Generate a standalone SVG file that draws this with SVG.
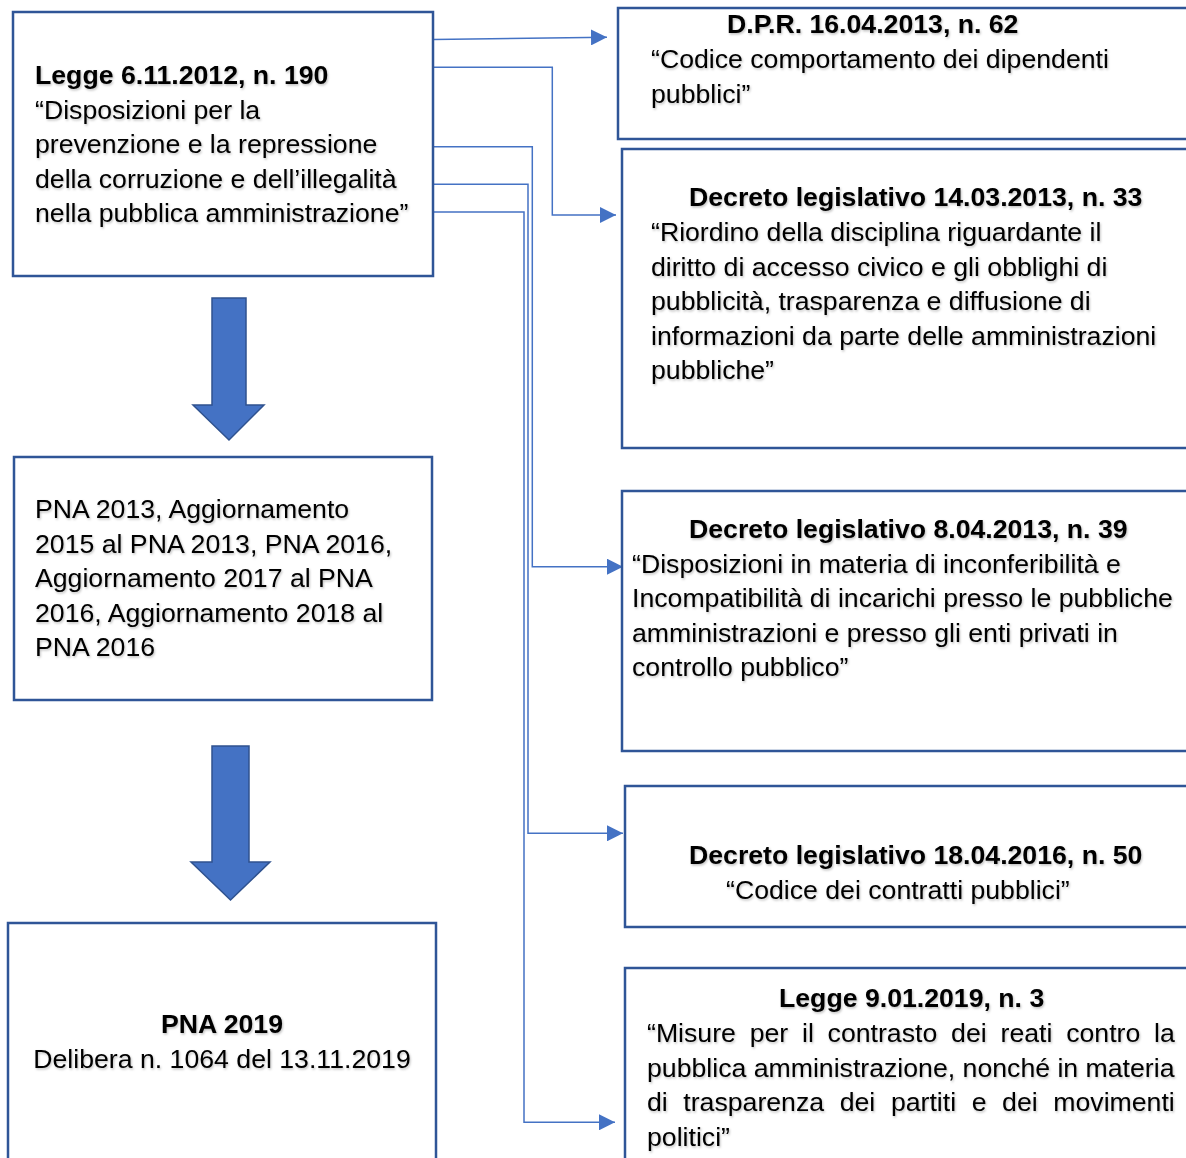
<svg xmlns="http://www.w3.org/2000/svg" width="1186" height="1158" viewBox="0 0 1186 1158">
  <style>
    .box { fill: #ffffff; stroke: #2F5597; stroke-width: 2.5; }
    .conn { fill: none; stroke: #4472C4; stroke-width: 1.5; }
    .big { fill: #4472C4; stroke: #2F528F; stroke-width: 1.5; }
    text { font-family: "Liberation Sans", Arial, Helvetica, sans-serif; font-size: 26.67px; fill: #000000; }
    .b { font-weight: bold; }
    .txt { filter: url(#shadow); }
  </style>
  <defs>
    <marker id="ah" viewBox="0 0 10 10" refX="10" refY="5" markerWidth="16" markerHeight="16" markerUnits="userSpaceOnUse" orient="auto">
      <path d="M0,0 L10,5 L0,10 Z" fill="#4472C4"/>
    </marker>
    <filter id="shadow" x="-5%" y="-20%" width="110%" height="150%">
      <feDropShadow dx="1" dy="1.5" stdDeviation="1" flood-color="#000000" flood-opacity="0.25"/>
    </filter>
  </defs>
  <rect width="1186" height="1158" fill="#ffffff"/>

  <g id="connectors">
    <path class="conn" d="M433,39.5 L607,37.2" marker-end="url(#ah)"/>
    <path class="conn" d="M433,67.3 H552.3 V215 H616" marker-end="url(#ah)"/>
    <path class="conn" d="M433,146.7 H532.3 V566.7 H623" marker-end="url(#ah)"/>
    <path class="conn" d="M433,184.3 H528 V833.3 H623" marker-end="url(#ah)"/>
    <path class="conn" d="M433,212 H524 V1122.3 H615" marker-end="url(#ah)"/>
    <polygon class="big" points="212,298 246,298 246,405 264,405 229,440 193,405 212,405"/>
    <polygon class="big" points="212,746 249,746 249,862 270,862 230.5,900 191,862 212,862"/>
  </g>

  <g id="legge190">
    <rect class="box" x="13" y="12" width="420" height="264"/>
    <g class="txt">
      <text class="b" x="35" y="84">Legge 6.11.2012, n. 190</text>
      <text x="35" y="118.6">“Disposizioni per la</text>
      <text x="35" y="153.2">prevenzione e la repressione</text>
      <text x="35" y="187.8">della corruzione e dell’illegalità</text>
      <text x="35" y="222.4">nella pubblica amministrazione”</text>
    </g>
  </g>

  <g id="pna-aggiornamenti">
    <rect class="box" x="14" y="457" width="418" height="243"/>
    <g class="txt">
      <text x="35" y="518">PNA 2013, Aggiornamento</text>
      <text x="35" y="552.6">2015 al PNA 2013, PNA 2016,</text>
      <text x="35" y="587.2">Aggiornamento 2017 al PNA</text>
      <text x="35" y="621.8">2016, Aggiornamento 2018 al</text>
      <text x="35" y="656.4">PNA 2016</text>
    </g>
  </g>

  <g id="pna2019">
    <rect class="box" x="8" y="923" width="428" height="260"/>
    <g class="txt">
      <text class="b" x="222" y="1033" text-anchor="middle">PNA 2019</text>
      <text x="222" y="1067.6" text-anchor="middle">Delibera n. 1064 del 13.11.2019</text>
    </g>
  </g>

  <g id="dpr62">
    <rect class="box" x="618" y="8" width="600" height="131"/>
    <g class="txt">
      <text class="b" x="727" y="33">D.P.R. 16.04.2013, n. 62</text>
      <text x="651" y="68">“Codice comportamento dei dipendenti</text>
      <text x="651" y="102.6">pubblici”</text>
    </g>
  </g>

  <g id="dlgs33">
    <rect class="box" x="622" y="149" width="600" height="299"/>
    <g class="txt">
      <text class="b" x="689" y="206">Decreto legislativo 14.03.2013, n. 33</text>
      <text x="651" y="241">“Riordino della disciplina riguardante il</text>
      <text x="651" y="275.6">diritto di accesso civico e gli obblighi di</text>
      <text x="651" y="310.2">pubblicità, trasparenza e diffusione di</text>
      <text x="651" y="344.8">informazioni da parte delle amministrazioni</text>
      <text x="651" y="379.4">pubbliche”</text>
    </g>
  </g>

  <g id="dlgs39">
    <rect class="box" x="622" y="491" width="600" height="260"/>
    <g class="txt">
      <text class="b" x="689" y="538">Decreto legislativo 8.04.2013, n. 39</text>
      <text x="632" y="572.6">“Disposizioni in materia di inconferibilità e</text>
      <text x="632" y="607.2">Incompatibilità di incarichi presso le pubbliche</text>
      <text x="632" y="641.8">amministrazioni e presso gli enti privati in</text>
      <text x="632" y="676.4">controllo pubblico”</text>
    </g>
  </g>

  <g id="dlgs50">
    <rect class="box" x="625" y="786" width="600" height="141"/>
    <g class="txt">
      <text class="b" x="689" y="864">Decreto legislativo 18.04.2016, n. 50</text>
      <text x="726" y="899">“Codice dei contratti pubblici”</text>
    </g>
  </g>

  <g id="legge3">
    <rect class="box" x="625" y="968" width="600" height="220"/>
    <g class="txt">
      <text class="b" x="779" y="1007">Legge 9.01.2019, n. 3</text>
      <text y="1042"><tspan x="647">“Misure</tspan><tspan x="749.7">per</tspan><tspan x="802">il</tspan><tspan x="827.6">contrasto</tspan><tspan x="951.1">dei</tspan><tspan x="1000.5">reati</tspan><tspan x="1066.2">contro</tspan><tspan x="1154.1">la</tspan></text>
      <text x="647" y="1076.6">pubblica amministrazione, nonché in materia</text>
      <text y="1111.2"><tspan x="647">di</tspan><tspan x="683.3">trasparenza</tspan><tspan x="839.7">dei</tspan><tspan x="890.9">partiti</tspan><tspan x="971.7">e</tspan><tspan x="1002.1">dei</tspan><tspan x="1053.3">movimenti</tspan></text>
      <text x="647" y="1145.8">politici”</text>
    </g>
  </g>
</svg>
